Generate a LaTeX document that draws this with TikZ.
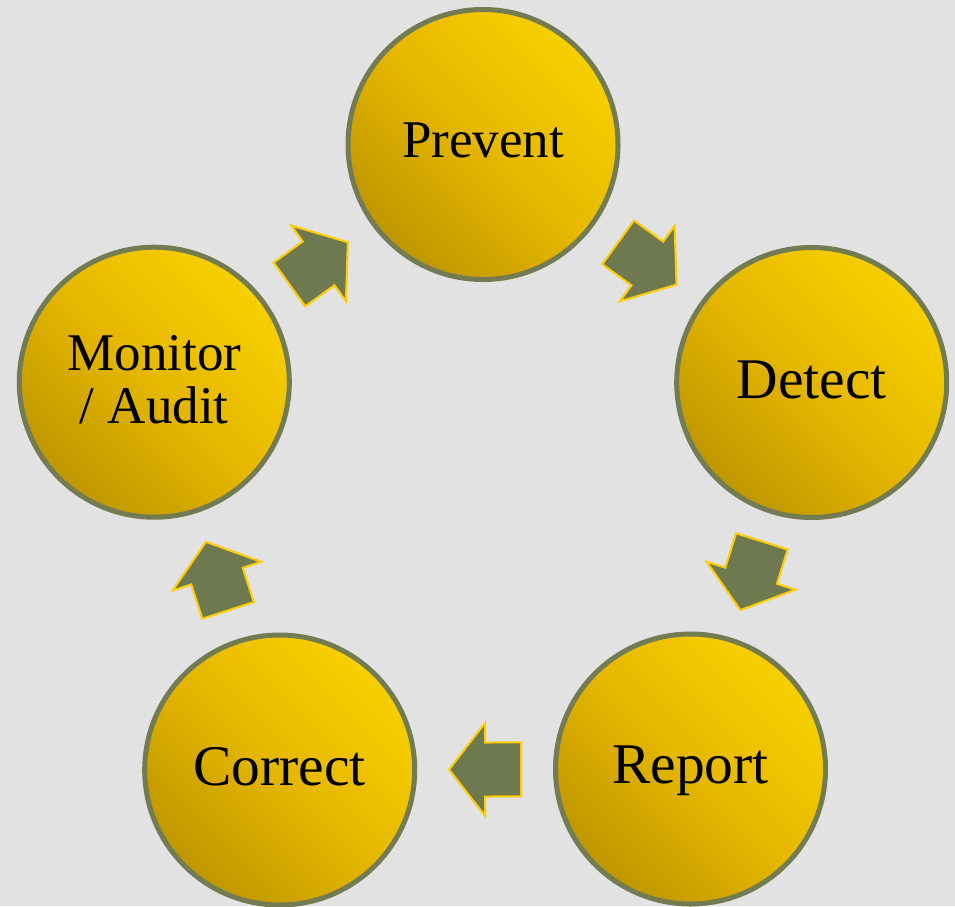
\documentclass[tikz,border=0pt]{standalone}
\usepackage{fontspec}
\setmainfont{Liberation Serif}
\usetikzlibrary{calc}
\definecolor{bg}{HTML}{E2E2E2}
\definecolor{ringc}{HTML}{737B53}
\definecolor{goldlight}{HTML}{F7D000}
\definecolor{goldmid}{HTML}{E6B700}
\definecolor{golddark}{HTML}{BE9600}
\definecolor{arrfill}{HTML}{6F7950}
\definecolor{arredge}{HTML}{FFCC00}
\tikzset{
  stagecircle/.style={circle, minimum size=270pt, inner sep=0pt, draw=ringc, line width=5pt,
    top color=goldlight, bottom color=golddark, middle color=goldmid, shading angle=-45},
  biglabel/.style={font=\fontsize{57.5}{57.5}\selectfont, anchor=base, inner sep=0pt},
  smalllabel/.style={font=\fontsize{53}{53}\selectfont, anchor=base, inner sep=0pt},
  cyclearrowshape/.style={fill=arrfill, draw=arredge, line width=2pt, line join=miter},
}
\newcommand{\cyclearrow}[2]{%
  \pgfmathanglebetweenpoints{\pgfpointanchor{#1}{center}}{\pgfpointanchor{#2}{center}}%
  \let\arrang\pgfmathresult
  \begin{scope}[shift={($(#1)!0.5!(#2)$)}, rotate=\arrang]
    \draw[cyclearrowshape] (-36,-27) -- (0,-27) -- (0,-46.5) -- (36,0) -- (0,46.5) -- (0,27) -- (-36,27) -- cycle;
  \end{scope}}
\begin{document}
\begin{tikzpicture}[x=1pt,y=-1pt]
  \useasboundingbox (0,0) rectangle (955,906);
  \fill[bg] (0,0) rectangle (955,906);
  \node[stagecircle] (prevent) at (483,144.5) {};
  \node[stagecircle] (detect)  at (811.7,382.5) {};
  \node[stagecircle] (report)  at (690.5,769) {};
  \node[stagecircle] (correct) at (279.7,770) {};
  \node[stagecircle] (monitor) at (154.3,382.2) {};
  \node[smalllabel] (preventtext) at ([yshift=-13pt]prevent.center) {Prevent};
  \node[biglabel] (detecttext) at ([yshift=-15.5pt]detect.center) {Detect};
  \node[biglabel] (reporttext) at ([yshift=-14.5pt]report.center) {Report};
  \node[biglabel] (correcttext) at ([yshift=-15pt]correct.center) {Correct};
  \node[smalllabel] (monitortext) at ([yshift=12pt]monitor.center) {Monitor};
  \node[smalllabel] (audittext) at ([yshift=-41pt]monitor.center) {/ Audit};
  \cyclearrow{prevent}{detect}
  \cyclearrow{detect}{report}
  \cyclearrow{report}{correct}
  \cyclearrow{correct}{monitor}
  \cyclearrow{monitor}{prevent}
\end{tikzpicture}
\end{document}
